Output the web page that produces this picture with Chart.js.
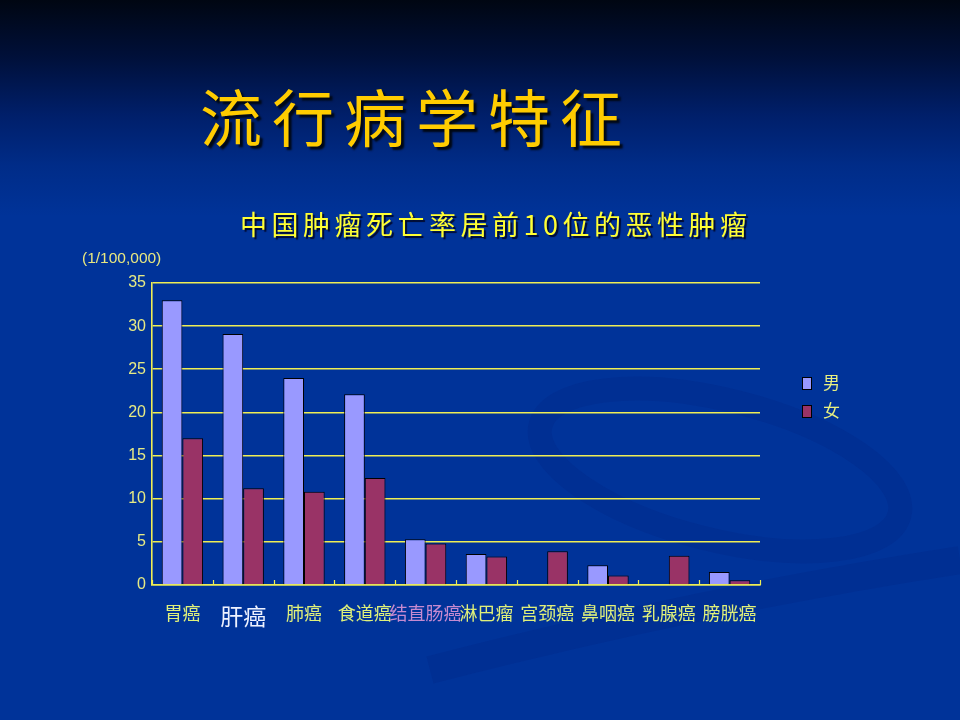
<!DOCTYPE html>
<html>
<head>
<meta charset="utf-8">
<script src="https://cdn.jsdelivr.net/npm/chart.js@4.4.0/dist/chart.umd.min.js"></script>
<style>
  html, body { margin: 0; padding: 0; }
  body {
    width: 960px; height: 720px; overflow: hidden; position: relative;
    background: linear-gradient(to bottom, #000612 0%, #00103a 8%, #001f6a 16%, #002c88 23%, #003399 30%, #003399 100%);
    font-family: "Noto Sans CJK SC", "Noto Sans", sans-serif;
  }
  #deco { position: absolute; left: 0; top: 0; }
  #wrap { position: absolute; left: 0; top: 0; width: 960px; height: 720px; }
  .t { position: absolute; white-space: nowrap; }
  #title {
    left: 200px; top: 84px; font-size: 62px; line-height: 62px; letter-spacing: 10px;
    color: #ffcc00; text-shadow: 3px 3px 2px #000814;
  }
  #subtitle {
    left: 240px; top: 210px; font-size: 27px; line-height: 28px; letter-spacing: 4.5px;
    color: #ffff33; text-shadow: 2px 2px 1px #000a30;
  }
  #unit {
    left: 82px; top: 249px; font-family: "Liberation Sans", Arial, sans-serif; font-size: 15.5px; line-height: 18px;
    color: #e8e880;
  }
  #legend { position: absolute; left: 802px; top: 371px; }
  .li { position: relative; height: 28px; }
  .box { position: absolute; left: 0; top: 6px; width: 8px; height: 11px; border: 1px solid #000; }
  .lt { position: absolute; left: 21px; top: 0; font-size: 17px; line-height: 22px; color: #e8f080; }
</style>
</head>
<body>
<svg id="deco" width="960" height="720">
  <g fill="none" stroke="rgba(0,22,100,0.11)">
    <ellipse cx="720" cy="470" rx="185" ry="70" transform="rotate(14 720 470)" stroke-width="24"/>
    <path d="M 430 670 Q 700 600 960 560" stroke-width="28"/>
  </g>
</svg>
<div id="wrap"><canvas id="c"></canvas></div>
<div class="t" id="title">流行病学特征</div>
<div class="t" id="subtitle">中国肿瘤死亡率居前10位的恶性肿瘤</div>
<div class="t" id="unit">(1/100,000)</div>
<div id="legend"></div>
<script>
const categories = ['胃癌', '肝癌', '肺癌', '食道癌', '结直肠癌', '淋巴瘤', '宫颈癌', '鼻咽癌', '乳腺癌', '膀胱癌'];
const seriesNames = ['男', '女'];
const maleValues = [33, 29.1, 24, 22.1, 5.3, 3.6, null, 2.3, null, 1.5];
const femaleValues = [17, 11.2, 10.8, 12.4, 4.8, 3.3, 3.9, 1.1, 3.4, 0.55];
const yMin = 0, yMax = 35, yStep = 5;

const labelColor = (i) => i === 1 ? '#eef2ff' : (i === 4 ? '#c58ad0' : '#dff07a');
const labelSize = (i) => i === 1 ? 23 : 18;

const boundaryTicks = {
  id: 'boundaryTicks',
  afterDatasetsDraw(chart) {
    const xs = chart.scales.x, ctx = chart.ctx;
    const bottom = chart.chartArea.bottom;
    ctx.save();
    ctx.strokeStyle = '#eeee55';
    ctx.lineWidth = 1.2;
    for (let i = 0; i <= categories.length; i++) {
      const x = Math.round(xs.getPixelForValue(i - 0.5)) + 0.5;
      ctx.beginPath();
      ctx.moveTo(x, bottom);
      ctx.lineTo(x, bottom - 5);
      ctx.stroke();
    }
    ctx.restore();
  }
};

const chart = new Chart(document.getElementById('c'), {
  type: 'bar',
  data: {
    labels: categories,
    datasets: [
      { label: seriesNames[0], data: maleValues, backgroundColor: '#9999ff', borderColor: '#000000', borderWidth: 1 },
      { label: seriesNames[1], data: femaleValues, backgroundColor: '#993366', borderColor: '#000000', borderWidth: 1 }
    ]
  },
  options: {
    responsive: true,
    maintainAspectRatio: false,
    animation: false,
    layout: { padding: { left: 112, right: 200, top: 283, bottom: 0 } },
    datasets: { bar: { categoryPercentage: 0.68, barPercentage: 1.0 } },
    plugins: { legend: { display: false }, tooltip: { enabled: false } },
    scales: {
      x: {
        grid: { display: false, drawTicks: false },
        border: { display: true, color: '#eeee55', width: 1.6 },
        ticks: {
          autoSkip: false, maxRotation: 0, minRotation: 0, padding: 17,
          color: (ctx) => labelColor(ctx.index),
          font: (ctx) => ({ family: '"Noto Sans CJK SC", sans-serif', size: labelSize(ctx.index) })
        },
        afterFit(scale) { scale.height = 135; }
      },
      y: {
        min: yMin, max: yMax,
        grid: { color: '#eeee55', lineWidth: 1.6, drawTicks: false },
        border: { display: true, color: '#eeee55', width: 1.6 },
        ticks: {
          stepSize: yStep, padding: 6, color: '#e6ea84',
          font: { family: '"Liberation Sans", Arial, sans-serif', size: 16 }
        },
        afterFit(scale) { scale.width = 40; }
      }
    }
  },
  plugins: [boundaryTicks]
});

const legend = document.getElementById('legend');
chart.data.datasets.forEach((ds) => {
  const item = document.createElement('div');
  item.className = 'li';
  const box = document.createElement('div');
  box.className = 'box';
  box.style.background = ds.backgroundColor;
  const txt = document.createElement('div');
  txt.className = 'lt';
  txt.textContent = ds.label;
  item.appendChild(box); item.appendChild(txt);
  legend.appendChild(item);
});
</script>
</body>
</html>
